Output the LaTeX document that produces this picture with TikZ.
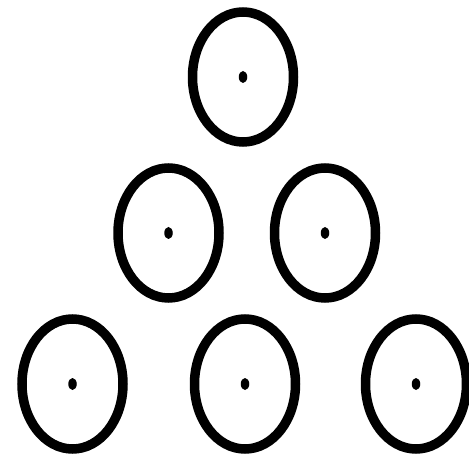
\documentclass[tikz,border=0pt]{standalone}
\usetikzlibrary{shapes.geometric}
\begin{document}
\begin{tikzpicture}[x=1pt,y=-1pt,
  ring/.style={ellipse,draw=black,line width=9.5pt,inner sep=0pt,minimum width=101pt,minimum height=130pt},
  dot/.style={ellipse,fill=black,inner sep=0pt,minimum width=8.5pt,minimum height=12pt}]
\useasboundingbox (0,0) rectangle (469,457);
\node[ring] (e1) at (243,77) {};
\node[ring] (e2) at (168.5,233) {};
\node[ring] (e3) at (325,233) {};
\node[ring] (e4) at (72.5,384) {};
\node[ring] (e5) at (245,384) {};
\node[ring] (e6) at (416,384) {};
\node[dot] (d1) at (e1.center) {};
\node[dot] (d2) at (e2.center) {};
\node[dot] (d3) at (e3.center) {};
\node[dot] (d4) at (e4.center) {};
\node[dot] (d5) at (e5.center) {};
\node[dot] (d6) at (e6.center) {};
\end{tikzpicture}
\end{document}
